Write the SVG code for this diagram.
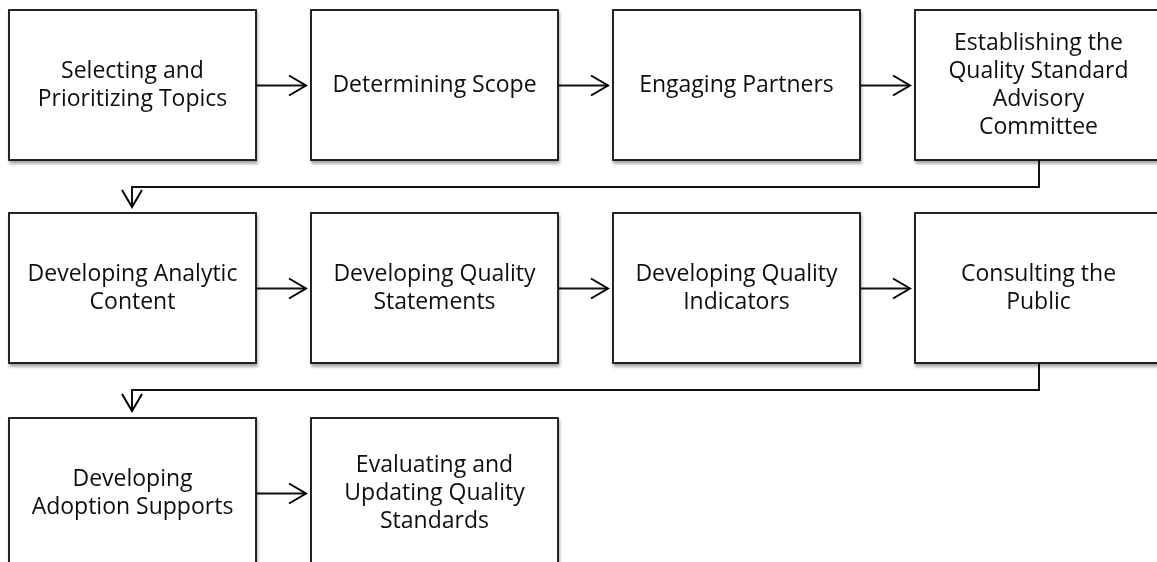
<svg xmlns="http://www.w3.org/2000/svg" width="1157" height="562" viewBox="0 0 1157 562">
<defs>
<filter id="sh" x="-5%" y="-5%" width="115%" height="120%">
<feGaussianBlur in="SourceAlpha" stdDeviation="1.5"/>
<feOffset dx="1" dy="2.5" result="b"/>
<feComponentTransfer><feFuncA type="linear" slope="0.35"/></feComponentTransfer>
<feMerge><feMergeNode/><feMergeNode in="SourceGraphic"/></feMerge>
</filter>
<marker id="ah" viewBox="0 0 20 24" refX="18" refY="12" markerWidth="20" markerHeight="24" markerUnits="userSpaceOnUse" orient="auto">
<path d="M1 2 L18 12 L1 22" fill="none" stroke="#000" stroke-width="2"/>
</marker>
</defs>
<style>
.box{fill:#fff;stroke:#111;stroke-width:1.8}
.lbl{font-family:"Open Sans","Liberation Sans",sans-serif;font-size:23px;fill:#111;text-anchor:middle}
.con{fill:none;stroke:#111;stroke-width:2;marker-end:url(#ah)}
</style>
<rect width="1157" height="562" fill="#fff"/>
<g id="connectors">
<path class="con" d="M256 85.5 H306"/>
<path class="con" d="M558 85.5 H608"/>
<path class="con" d="M860 85.5 H910"/>
<path class="con" d="M1039 160 V187 H132 V207"/>
<path class="con" d="M256 288.5 H306"/>
<path class="con" d="M558 288.5 H608"/>
<path class="con" d="M860 288.5 H910"/>
<path class="con" d="M1039 363 V390 H132 V411"/>
<path class="con" d="M256 493.5 H306"/>
</g>
<g id="n1" filter="url(#sh)"><rect class="box" x="9" y="10" width="247" height="150"/>
<text class="lbl"><tspan x="132.5" y="78">Selecting and</tspan><tspan x="132.5" y="106">Prioritizing Topics</tspan></text></g>
<g id="n2" filter="url(#sh)"><rect class="box" x="311" y="10" width="247" height="150"/>
<text class="lbl" x="434.5" y="92">Determining Scope</text></g>
<g id="n3" filter="url(#sh)"><rect class="box" x="613" y="10" width="247" height="150"/>
<text class="lbl" x="736.5" y="92">Engaging Partners</text></g>
<g id="n4" filter="url(#sh)"><rect class="box" x="915" y="10" width="247" height="150"/>
<text class="lbl"><tspan x="1038.5" y="50">Establishing the</tspan><tspan x="1038.5" y="78">Quality Standard</tspan><tspan x="1038.5" y="106">Advisory</tspan><tspan x="1038.5" y="134">Committee</tspan></text></g>
<g id="n5" filter="url(#sh)"><rect class="box" x="9" y="213" width="247" height="150"/>
<text class="lbl"><tspan x="132.5" y="281">Developing Analytic</tspan><tspan x="132.5" y="309">Content</tspan></text></g>
<g id="n6" filter="url(#sh)"><rect class="box" x="311" y="213" width="247" height="150"/>
<text class="lbl"><tspan x="434.5" y="281">Developing Quality</tspan><tspan x="434.5" y="309">Statements</tspan></text></g>
<g id="n7" filter="url(#sh)"><rect class="box" x="613" y="213" width="247" height="150"/>
<text class="lbl"><tspan x="736.5" y="281">Developing Quality</tspan><tspan x="736.5" y="309">Indicators</tspan></text></g>
<g id="n8" filter="url(#sh)"><rect class="box" x="915" y="213" width="247" height="150"/>
<text class="lbl"><tspan x="1038.5" y="281">Consulting the</tspan><tspan x="1038.5" y="309">Public</tspan></text></g>
<g id="n9" filter="url(#sh)"><rect class="box" x="9" y="418" width="247" height="150"/>
<text class="lbl"><tspan x="132.5" y="486">Developing</tspan><tspan x="132.5" y="514">Adoption Supports</tspan></text></g>
<g id="n10" filter="url(#sh)"><rect class="box" x="311" y="418" width="247" height="150"/>
<text class="lbl"><tspan x="434.5" y="472">Evaluating and</tspan><tspan x="434.5" y="500">Updating Quality</tspan><tspan x="434.5" y="528">Standards</tspan></text></g>
</svg>
